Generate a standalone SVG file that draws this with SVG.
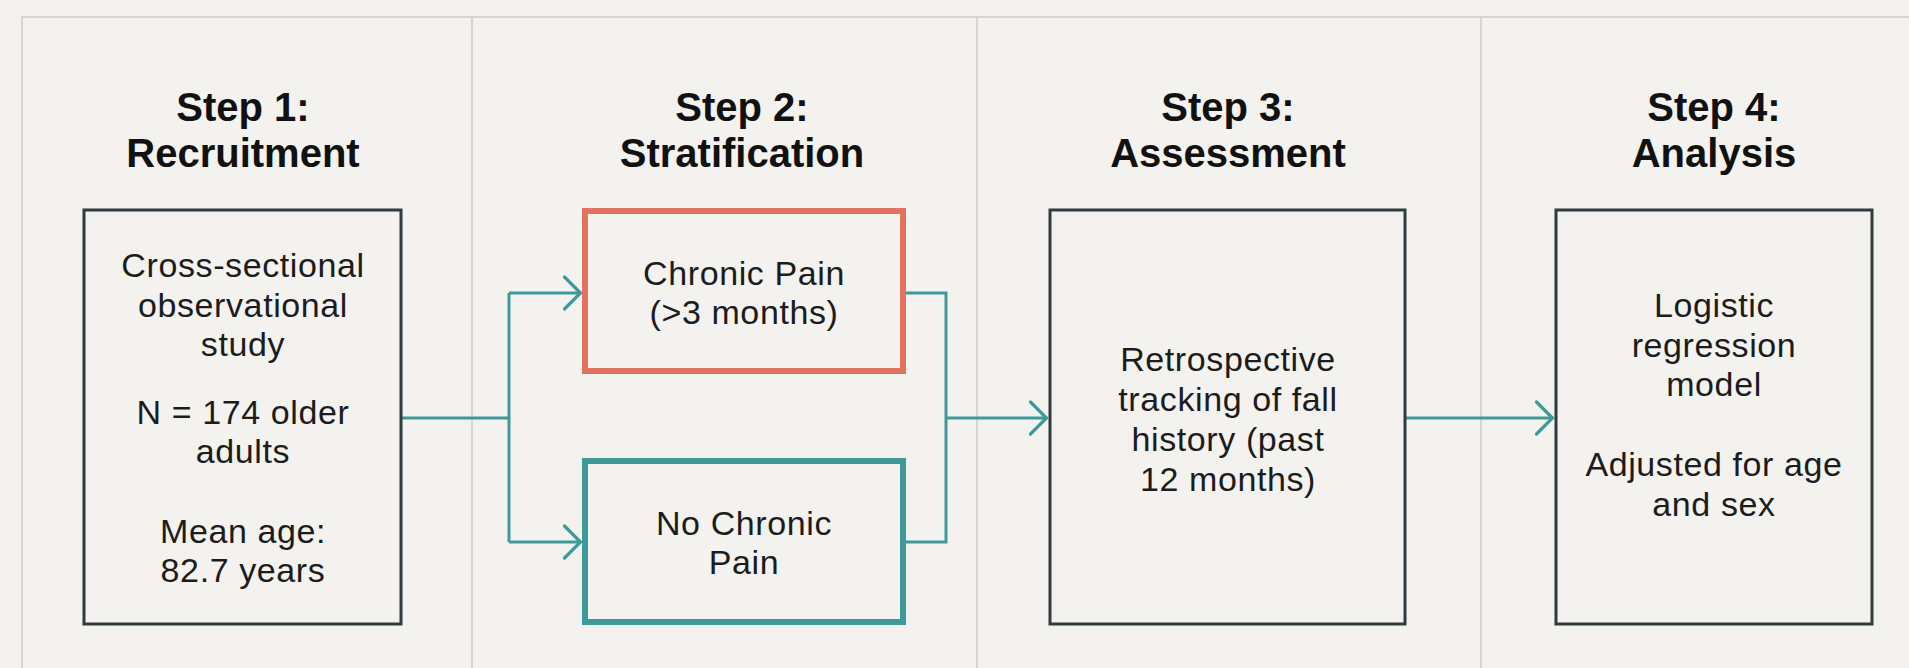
<svg xmlns="http://www.w3.org/2000/svg" width="1909" height="668" viewBox="0 0 1909 668">
  <defs>
    <marker id="chev" markerUnits="userSpaceOnUse" viewBox="0 0 20 36" refX="18.5" refY="18" markerWidth="20" markerHeight="36" orient="auto">
      <path d="M2,2 L18,18 L2,34" fill="none" stroke="#3d9a98" stroke-width="3.2" stroke-linecap="round" stroke-linejoin="miter"/>
    </marker>
    <style>
      .bg { fill: #f3f2ee; }
      .frame { fill: none; stroke: #d6d5d1; stroke-width: 2; }
      .title { font-family: "Liberation Sans", Arial, sans-serif; font-weight: bold; font-size: 40px; fill: #111111; text-anchor: middle; }
      .body { font-family: "Liberation Sans", Arial, sans-serif; font-size: 34px; fill: #1c1c1c; text-anchor: middle; letter-spacing: 0.6px; }
      .box { fill: none; stroke: #2f3b3f; stroke-width: 3; }
      .red { fill: none; stroke: #e2725f; stroke-width: 6; }
      .teal { fill: none; stroke: #3d9a98; stroke-width: 6; }
      .conn { fill: none; stroke: #3d9a98; stroke-width: 3; }
    </style>
  </defs>

  <rect class="bg" x="0" y="0" width="1909" height="668"/>

  <g id="frame">
    <path class="frame" d="M22,668 V17 H1909"/>
    <line class="frame" x1="472" y1="17" x2="472" y2="668"/>
    <line class="frame" x1="977" y1="17" x2="977" y2="668"/>
    <line class="frame" x1="1481" y1="17" x2="1481" y2="668"/>
  </g>

  <g id="titles">
    <text class="title" x="243" y="121">Step 1:</text>
    <text class="title" x="243" y="167">Recruitment</text>
    <text class="title" x="742" y="121">Step 2:</text>
    <text class="title" x="742" y="167">Stratification</text>
    <text class="title" x="1228" y="121">Step 3:</text>
    <text class="title" x="1228" y="167">Assessment</text>
    <text class="title" x="1714" y="121">Step 4:</text>
    <text class="title" x="1714" y="167">Analysis</text>
  </g>

  <g id="connectors">
    <path class="conn" d="M402,418 H509"/>
    <path class="conn" d="M509,293 V542"/>
    <path class="conn" d="M509,293 H581" marker-end="url(#chev)"/>
    <path class="conn" d="M509,542 H581" marker-end="url(#chev)"/>
    <path class="conn" d="M906,293 H946 V542 H906"/>
    <path class="conn" d="M946,418 H1047" marker-end="url(#chev)"/>
    <path class="conn" d="M1406,418 H1553" marker-end="url(#chev)"/>
  </g>

  <g id="recruitment">
    <rect class="box" x="84" y="210" width="317" height="414"/>
    <text class="body" x="243" y="277">Cross-sectional</text>
    <text class="body" x="243" y="317">observational</text>
    <text class="body" x="243" y="356">study</text>
    <text class="body" x="243" y="424">N = 174 older</text>
    <text class="body" x="243" y="463">adults</text>
    <text class="body" x="243" y="543">Mean age:</text>
    <text class="body" x="243" y="582">82.7 years</text>
  </g>

  <g id="chronic-pain">
    <rect class="red" x="585" y="211" width="318" height="160"/>
    <text class="body" x="744" y="285">Chronic Pain</text>
    <text class="body" x="744" y="324">(&gt;3 months)</text>
  </g>

  <g id="no-chronic-pain">
    <rect class="teal" x="585" y="461" width="318" height="161"/>
    <text class="body" x="744" y="535">No Chronic</text>
    <text class="body" x="744" y="574">Pain</text>
  </g>

  <g id="assessment">
    <rect class="box" x="1050" y="210" width="355" height="414"/>
    <text class="body" x="1228" y="371">Retrospective</text>
    <text class="body" x="1228" y="411">tracking of fall</text>
    <text class="body" x="1228" y="451">history (past</text>
    <text class="body" x="1228" y="491">12 months)</text>
  </g>

  <g id="analysis">
    <rect class="box" x="1556" y="210" width="316" height="414"/>
    <text class="body" x="1714" y="317">Logistic</text>
    <text class="body" x="1714" y="357">regression</text>
    <text class="body" x="1714" y="396">model</text>
    <text class="body" x="1714" y="476">Adjusted for age</text>
    <text class="body" x="1714" y="516">and sex</text>
  </g>
</svg>
